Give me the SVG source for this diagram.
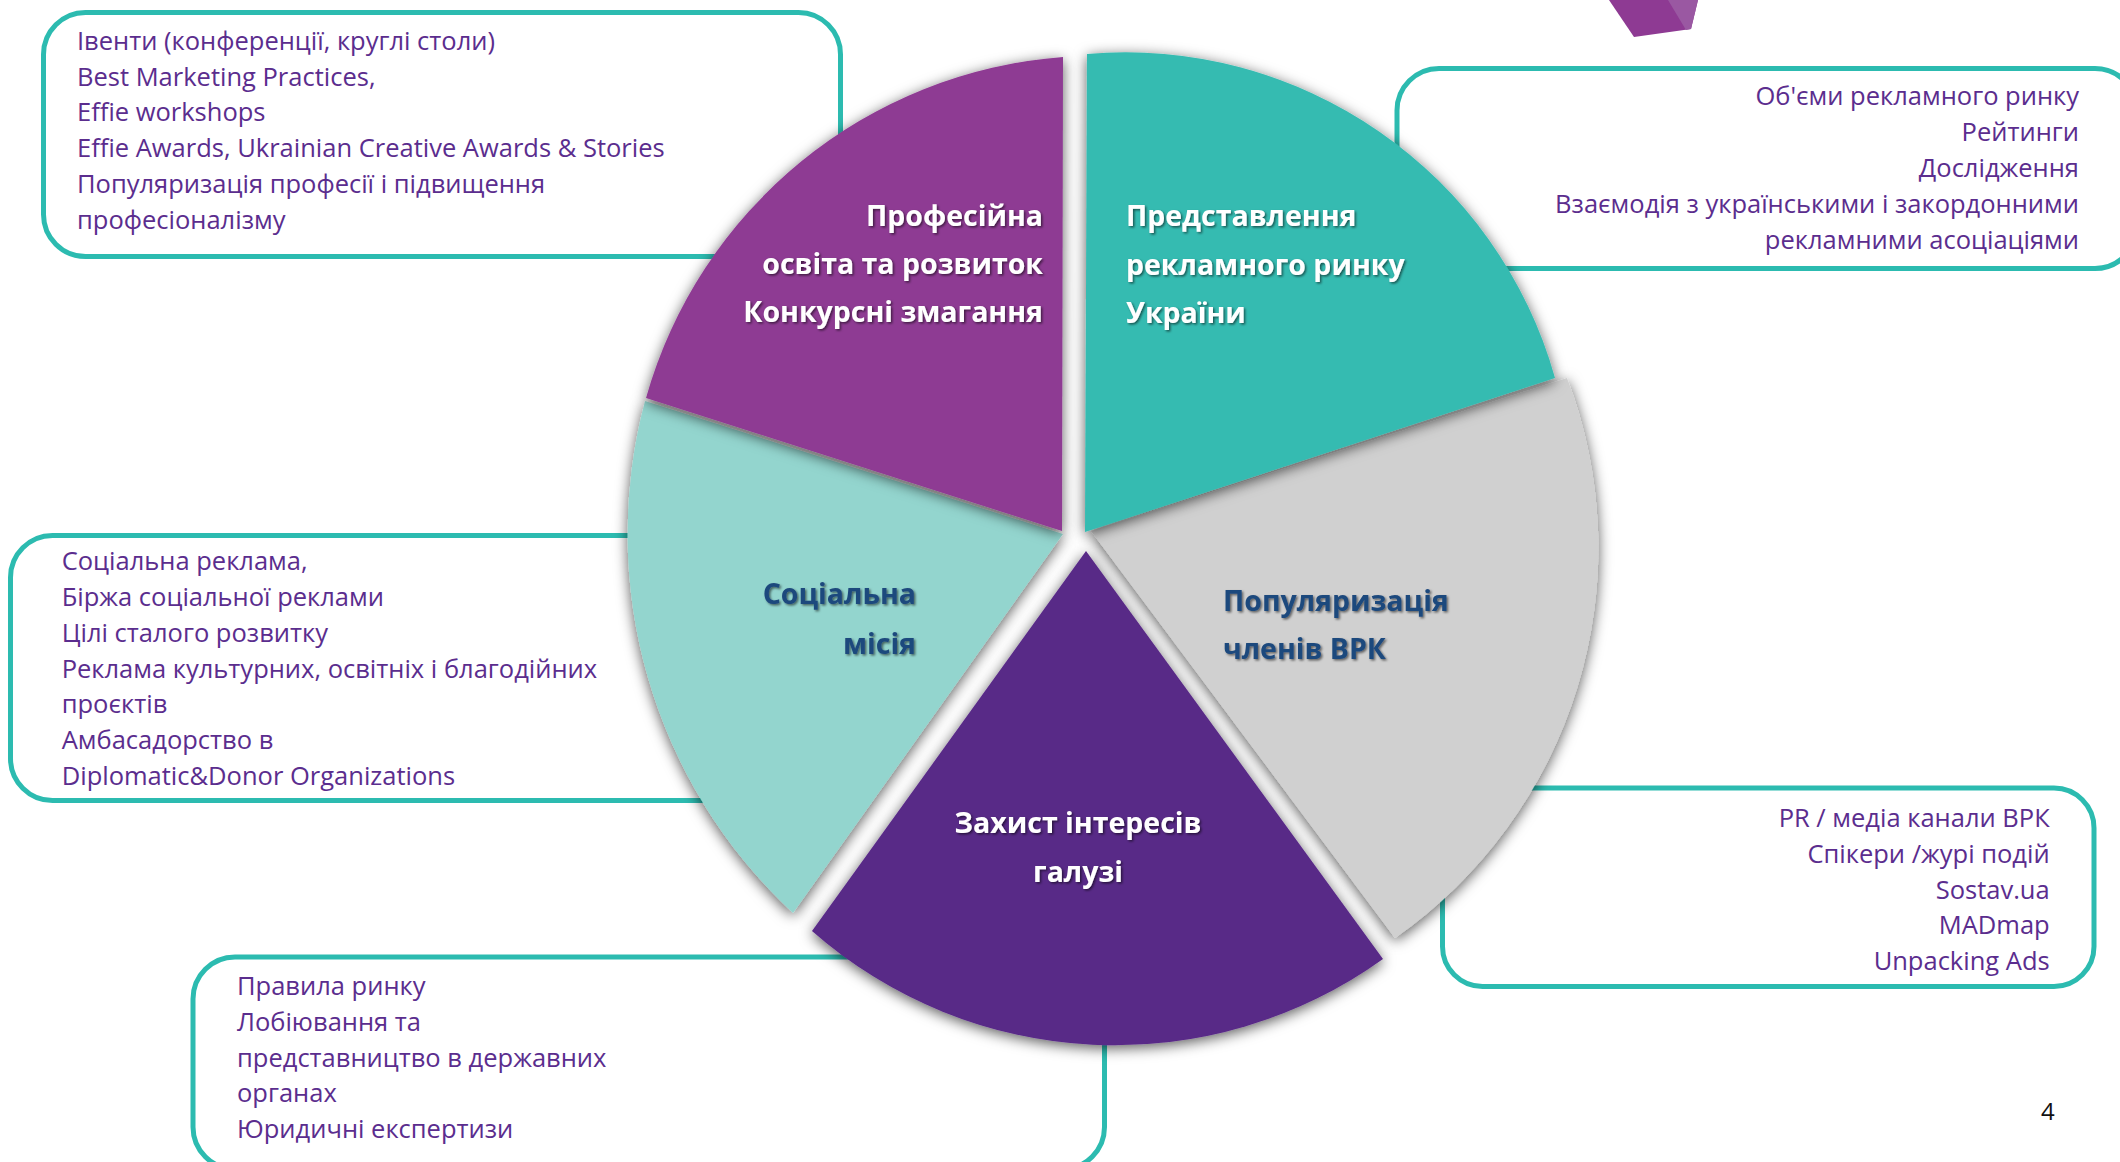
<svg xmlns="http://www.w3.org/2000/svg" width="2120" height="1162" viewBox="0 0 2120 1162">
  <defs>
    <filter id="sliceShadow" x="-15%" y="-15%" width="130%" height="130%">
      <feDropShadow dx="0" dy="3" stdDeviation="7" flood-color="#000" flood-opacity="0.65"/>
    </filter>
    <filter id="textShadow" x="-10%" y="-20%" width="120%" height="150%">
      <feDropShadow dx="1.5" dy="1.5" stdDeviation="1.2" flood-color="#000" flood-opacity="0.55"/>
    </filter>
    <style>
      .box { fill: #ffffff; stroke: #2CBBB0; stroke-width: 5; }
      .bt { font-family: "Open Sans", "Noto Sans", "DejaVu Sans", sans-serif; font-size: 25.5px; fill: #5B2D8E; }
      .st { font-family: "Open Sans", "Noto Sans", "DejaVu Sans", sans-serif; font-size: 28.5px; font-weight: bold; filter: url(#textShadow); }
      .w { fill: #ffffff; }
      .b { fill: #1F497D; }
      .pg { font-family: "Open Sans", "Noto Sans", sans-serif; font-size: 24px; fill: #111111; }
    </style>
  </defs>

  <rect x="0" y="0" width="2120" height="1162" fill="#ffffff"/>

  <g id="decor">
    <polygon points="1609,0 1698,0 1691,29 1634,37" fill="#8E3A93"/>
    <polygon points="1668,0 1698,0 1691,29 1686,30" fill="#9A58A2"/>
  </g>

  <!-- Info boxes (behind pie) -->
  <g id="box-education">
    <rect class="box" x="43.5" y="12.5" width="797" height="244" rx="42" ry="42"/>
    <text class="bt" x="77" y="50">Івенти (конференції, круглі столи)</text>
    <text class="bt" x="77" y="85.7">Best Marketing Practices,</text>
    <text class="bt" x="77" y="121.4">Effie workshops</text>
    <text class="bt" x="77" y="157">Effie Awards, Ukrainian Creative Awards &amp; Stories</text>
    <text class="bt" x="77" y="193">Популяризація професії і підвищення</text>
    <text class="bt" x="77" y="228.6">професіоналізму</text>
  </g>

  <g id="box-market">
    <rect class="box" x="1397" y="68.5" width="740" height="200" rx="42" ry="42"/>
    <text class="bt" x="2079" y="105.4" text-anchor="end">Об'єми рекламного ринку</text>
    <text class="bt" x="2079" y="141" text-anchor="end">Рейтинги</text>
    <text class="bt" x="2079" y="176.8" text-anchor="end">Дослідження</text>
    <text class="bt" x="2079" y="213" text-anchor="end">Взаємодія з українськими і закордонними</text>
    <text class="bt" x="2079" y="248.5" text-anchor="end">рекламними асоціаціями</text>
  </g>

  <g id="box-social">
    <rect class="box" x="10.5" y="535.5" width="830" height="265" rx="42" ry="42"/>
    <text class="bt" x="61.7" y="570">Соціальна реклама,</text>
    <text class="bt" x="61.7" y="606">Біржа соціальної реклами</text>
    <text class="bt" x="61.7" y="642">Цілі сталого розвитку</text>
    <text class="bt" x="61.7" y="677.6">Реклама культурних, освітніх і благодійних</text>
    <text class="bt" x="61.7" y="712.6">проєктів</text>
    <text class="bt" x="61.7" y="749.3">Амбасадорство в</text>
    <text class="bt" x="61.7" y="785.3">Diplomatic&amp;Donor Organizations</text>
  </g>

  <g id="box-protection">
    <rect class="box" x="193" y="957" width="911.5" height="212" rx="42" ry="42"/>
    <text class="bt" x="237" y="995">Правила ринку</text>
    <text class="bt" x="237" y="1031">Лобіювання та</text>
    <text class="bt" x="237" y="1066.6">представництво в державних</text>
    <text class="bt" x="237" y="1101.6">органах</text>
    <text class="bt" x="237" y="1138.2">Юридичні експертизи</text>
  </g>

  <g id="box-members">
    <rect class="box" x="1442.5" y="788" width="651.5" height="198.5" rx="40" ry="40"/>
    <text class="bt" x="2049.7" y="827" text-anchor="end">PR / медіа канали ВРК</text>
    <text class="bt" x="2049.7" y="863" text-anchor="end">Спікери /журі подій</text>
    <text class="bt" x="2049.7" y="898.7" text-anchor="end">Sostav.ua</text>
    <text class="bt" x="2049.7" y="934.3" text-anchor="end">MADmap</text>
    <text class="bt" x="2049.7" y="970.4" text-anchor="end">Unpacking Ads</text>
  </g>

  <!-- Pie slices -->
  <g id="slice-social">
    <path d="M1063,534 L793,913 A517,517 0 0 1 645,401 Z" fill="#93D5CE" filter="url(#sliceShadow)"/>
    <text class="st b" x="916" y="604.4" text-anchor="end">Соціальна</text>
    <text class="st b" x="916" y="653.6" text-anchor="end">місія</text>
  </g>

  <g id="slice-protection">
    <path d="M1086,551 L1383,959 A459,459 0 0 1 812,931 Z" fill="#582987" filter="url(#sliceShadow)"/>
    <text class="st w" x="1078" y="833.4" text-anchor="middle">Захист інтересів</text>
    <text class="st w" x="1078" y="881.6" text-anchor="middle">галузі</text>
  </g>

  <g id="slice-members">
    <path d="M1091,531 L1567,378 A476,476 0 0 1 1395,938 Z" fill="#D0D0D0" filter="url(#sliceShadow)"/>
    <text class="st b" x="1223" y="610.7">Популяризація</text>
    <text class="st b" x="1223" y="659">членів ВРК</text>
  </g>

  <g id="slice-education">
    <path d="M1062,531 L646,398 A470,470 0 0 1 1063,57 Z" fill="#8E3A93" filter="url(#sliceShadow)"/>
    <text class="st w" x="1043" y="225.7" text-anchor="end">Професійна</text>
    <text class="st w" x="1043" y="273.8" text-anchor="end">освіта та розвиток</text>
    <text class="st w" x="1043" y="321.9" text-anchor="end">Конкурсні змагання</text>
  </g>

  <g id="slice-market">
    <path d="M1085,532 L1087,54 A446,446 0 0 1 1555,378 Z" fill="#35BBB1" filter="url(#sliceShadow)"/>
    <text class="st w" x="1126" y="226.4">Представлення</text>
    <text class="st w" x="1126" y="274.6">рекламного ринку</text>
    <text class="st w" x="1126" y="322.9">України</text>
  </g>

  <g id="connectors"></g>

  <text class="pg" x="2041" y="1120">4</text>
</svg>
